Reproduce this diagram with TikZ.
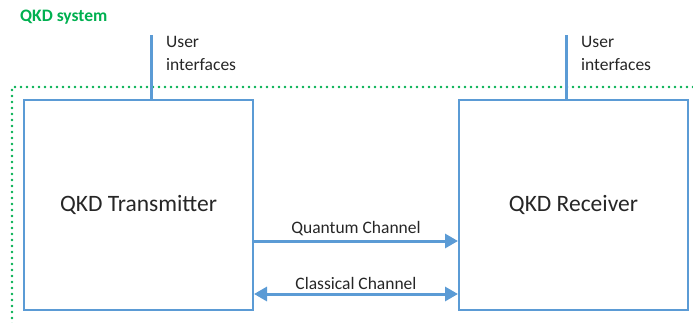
\documentclass[tikz,border=0pt]{standalone}
\usepackage{fontspec}
\setmainfont{Carlito}
\usetikzlibrary{calc, arrows.meta}

\definecolor{qkdblue}{RGB}{91,155,213}
\definecolor{qkdgreen}{RGB}{0,176,80}
\definecolor{qkdtext}{RGB}{38,38,38}

\begin{document}
\begin{tikzpicture}[x=1pt, y=-1pt,
    unit/.style={draw=qkdblue, line width=2pt, minimum width=229pt,
      minimum height=210pt, inner sep=0pt, text=qkdtext, font=\fontsize{23.5}{27}\selectfont},
    wire/.style={draw=qkdblue, line width=3pt},
    chan/.style={wire, -{Triangle[length=13pt, width=14pt]}},
    lbl/.style={text=qkdtext, font=\fontsize{17.5}{23}\selectfont}]
  \useasboundingbox (0,0) rectangle (693,322);
  \clip (0,0) rectangle (693,322);

  \coordinate (sys) at (12,87); % corner of the system border
  \coordinate (ua) at (151,35); % top of left user line
  \coordinate (ub) at (566,35); % top of right user line
  \coordinate (q) at (0,241);   % height of quantum channel
  \coordinate (c) at (0,294);   % height of classical channel

  % system border
  \draw[qkdgreen, line width=2.6pt, line cap=round, dash pattern=on 0pt off 6pt]
    (12,330) -- (sys) -- (700,87);
  \node[anchor=north west, inner sep=0pt, text=qkdgreen,
    font=\fontsize{17.5}{20}\selectfont\bfseries] (title) at (20,10) {QKD system};

  % the two units
  \node[unit] (tx) at (138.5,205) {QKD Transmitter};
  \node[unit] (rx) at (573.5,205) {QKD Receiver};

  % user interfaces
  \draw[wire] (ua) -- (ua |- tx.north);
  \draw[wire] (ub) -- (ub |- rx.north);
  \node[lbl, anchor=north west, inner sep=0pt, align=left] (uta) at (166,36) {User\\interfaces};
  \node[lbl, anchor=north west, inner sep=0pt, align=left] (utb) at (581,36) {User\\interfaces};

  % channels
  \draw[chan] (tx.east |- q) -- node[lbl, above=0pt] (ql) {Quantum Channel} (rx.west |- q);
  \draw[chan, {Triangle[length=13pt, width=14pt]}-{Triangle[length=13pt, width=14pt]}]
    (tx.east |- c) -- node[lbl, above=0pt] (cl) {Classical Channel} (rx.west |- c);
\end{tikzpicture}
\end{document}
